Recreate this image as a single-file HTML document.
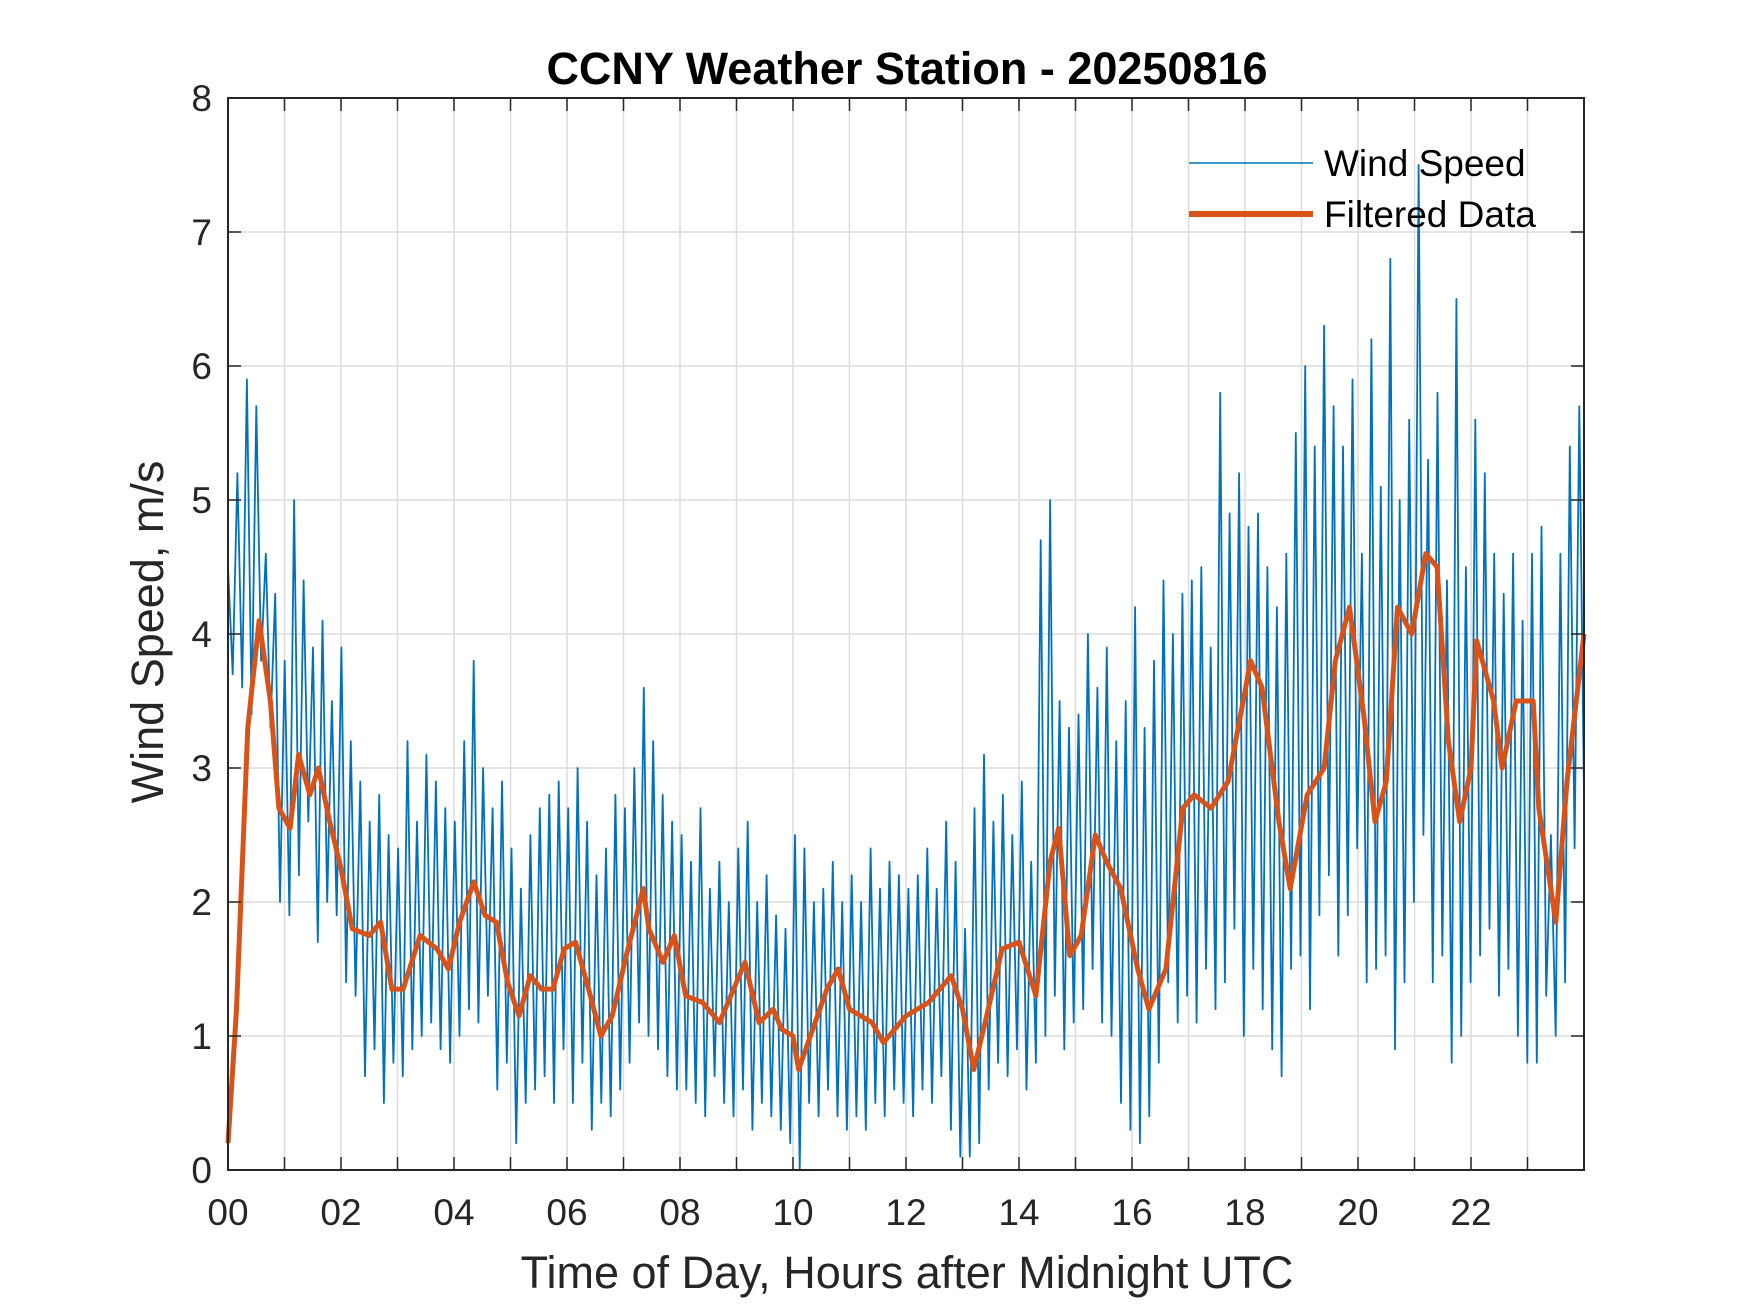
<!DOCTYPE html>
<html><head><meta charset="utf-8"><style>
html,body{margin:0;padding:0;background:#fff}
svg{display:block;font-family:"Liberation Sans",Arial,sans-serif}
</style></head><body>
<svg id="chart" width="1750" height="1313" viewBox="0 0 1750 1313" xmlns="http://www.w3.org/2000/svg">
<rect width="1750" height="1313" fill="#fff"/>
<text x="907" y="84" text-anchor="middle" font-size="45" font-weight="bold" fill="#000">CCNY Weather Station - 20250816</text>
<g id="grid"></g>
<g id="series"></g>
<g id="axes"></g>
<text x="907" y="1288" text-anchor="middle" font-size="45" fill="#262626">Time of Day, Hours after Midnight UTC</text>
<text transform="translate(163,632) rotate(-90)" text-anchor="middle" font-size="45" fill="#262626">Wind Speed, m/s</text>
<g>
<line x1="1189" y1="163" x2="1313" y2="163" stroke="#0072BD" stroke-width="1.5"/>
<text x="1324" y="176" font-size="37" fill="#000">Wind Speed</text>
<line x1="1189" y1="214" x2="1313" y2="214" stroke="#D95319" stroke-width="6"/>
<text x="1324" y="227" font-size="37" fill="#000">Filtered Data</text>
</g>
</svg>
<script>
const yTicks=[0,1,2,3,4,5,6,7,8];
const xTickLabels=["00","02","04","06","08","10","12","14","16","18","20","22"];
const windSpeed=[
4.5,3.7,5.2,3.6,5.9,3.4,5.7,3.8,4.6,3.3,4.3,2.0,
3.8,1.9,5.0,2.2,4.4,2.6,3.9,1.7,4.1,2.0,3.5,1.9,
3.9,1.4,3.2,1.3,2.9,0.7,2.6,0.9,2.8,0.5,2.5,0.8,
2.4,0.7,3.2,0.9,2.6,1.0,3.1,1.1,2.9,0.9,2.7,0.8,
2.6,1.0,3.2,1.2,3.8,1.1,3.0,1.3,2.7,0.6,2.9,0.8,
2.4,0.2,2.1,0.5,2.5,0.6,2.7,0.7,2.8,0.5,2.9,0.9,
2.7,0.5,3.0,0.8,2.6,0.3,2.2,0.5,2.4,0.4,2.8,0.6,
2.7,0.8,3.0,1.1,3.6,1.0,3.2,0.9,2.8,0.7,2.6,0.6,
2.5,0.6,2.3,0.5,2.7,0.4,2.1,0.7,2.3,0.5,2.0,0.4,
2.4,0.6,2.6,0.3,2.0,0.5,2.2,0.4,1.9,0.3,1.8,0.2,
2.5,0.0,2.4,0.5,2.0,0.4,2.1,0.6,2.3,0.4,2.0,0.3,
2.2,0.4,2.0,0.3,2.4,0.5,2.1,0.4,2.3,0.6,2.2,0.5,
2.1,0.4,2.2,0.6,2.4,0.5,2.1,0.7,2.6,0.3,2.3,0.1,
1.8,0.1,2.7,0.2,3.1,0.6,2.6,0.8,2.8,0.7,2.5,0.9,
2.9,0.6,2.3,0.8,4.7,1.0,5.0,1.3,3.5,0.9,3.3,1.1,
3.4,1.2,4.0,1.5,3.6,1.1,3.9,1.0,3.2,0.5,3.5,0.3,
4.2,0.2,3.3,0.4,3.8,0.8,4.4,1.4,4.0,1.1,4.3,1.3,
4.4,1.1,4.5,1.5,3.9,1.2,5.8,1.4,4.9,1.8,5.2,1.0,
4.8,1.5,4.9,1.2,4.5,0.9,4.2,0.7,4.6,1.5,5.5,1.6,
6.0,1.2,5.4,1.9,6.3,2.2,5.7,1.6,5.4,1.9,5.9,2.4,
4.6,1.4,6.2,1.5,5.1,1.6,6.8,0.9,5.0,1.4,5.6,2.0,
7.5,2.5,5.3,1.4,5.8,1.6,4.4,0.8,6.5,1.0,4.5,1.4,
5.6,1.6,5.2,1.8,4.6,1.3,4.3,1.5,4.6,1.0,4.1,0.8,
4.6,0.8,4.8,1.3,2.5,1.0,4.6,1.4,5.4,2.4,5.7,2.8];
const filtHours=[0,0.15,0.35,0.55,0.75,0.9,1.1,1.25,1.45,1.6,1.8,2.0,2.2,2.5,2.7,2.9,3.1,3.4,3.7,3.9,4.1,4.35,4.55,4.75,4.95,5.15,5.35,5.55,5.75,5.95,6.15,6.35,6.6,6.8,7.05,7.35,7.45,7.7,7.9,8.1,8.4,8.7,8.9,9.15,9.4,9.65,9.8,10.0,10.1,10.6,10.8,11.0,11.4,11.6,12.0,12.4,12.8,13.0,13.2,13.4,13.7,14.0,14.3,14.55,14.7,14.9,15.1,15.35,15.55,15.8,16.1,16.3,16.6,16.9,17.1,17.4,17.7,18.1,18.3,18.6,18.8,19.1,19.4,19.6,19.85,20.1,20.3,20.5,20.7,20.95,21.2,21.4,21.6,21.8,22.0,22.1,22.4,22.55,22.8,23.1,23.2,23.5,23.7,24.0];
const filtValues=[0.2,1.2,3.3,4.1,3.5,2.7,2.55,3.1,2.8,3.0,2.6,2.25,1.8,1.75,1.85,1.35,1.35,1.75,1.65,1.5,1.85,2.15,1.9,1.85,1.4,1.15,1.45,1.35,1.35,1.65,1.7,1.4,1.0,1.15,1.6,2.1,1.8,1.55,1.75,1.3,1.25,1.1,1.3,1.55,1.1,1.2,1.05,1.0,0.75,1.35,1.5,1.2,1.1,0.95,1.15,1.25,1.45,1.2,0.75,1.1,1.65,1.7,1.3,2.3,2.55,1.6,1.75,2.5,2.3,2.1,1.5,1.2,1.5,2.7,2.8,2.7,2.9,3.8,3.6,2.6,2.1,2.8,3.0,3.8,4.2,3.4,2.6,2.9,4.2,4.0,4.6,4.5,3.2,2.6,3.0,3.95,3.5,3.0,3.5,3.5,2.7,1.85,2.9,4.0];

const L=228,R=1584,T=98,B=1170;
const xs=h=>L+(R-L)*h/24;
const ys=v=>B-(B-T)*v/8;
const NS="http://www.w3.org/2000/svg";
function mk(tag,attrs,parent){const e=document.createElementNS(NS,tag);for(const k in attrs)e.setAttribute(k,attrs[k]);parent.appendChild(e);return e;}
const grid=document.getElementById('grid'),axes=document.getElementById('axes'),series=document.getElementById('series');
for(let h=1;h<24;h++){
  const g=mk('line',{x1:xs(h),x2:xs(h),y1:T,y2:B,stroke:'#dcdcdc','stroke-width':1.5},grid);
  
  
  const t1=mk('line',{x1:xs(h),x2:xs(h),y1:B,y2:B-13,stroke:'#262626','stroke-width':1.5},axes);
  
  
  const t2=mk('line',{x1:xs(h),x2:xs(h),y1:T,y2:T+13,stroke:'#262626','stroke-width':1.5},axes);
  
  
}
yTicks.forEach(v=>{
  if(v>0&&v<8){
    const g=mk('line',{x1:L,x2:R,y1:ys(v),y2:ys(v),stroke:'#dcdcdc','stroke-width':1.5},grid);
    
    
    const t1=mk('line',{x1:L,x2:L+13,y1:ys(v),y2:ys(v),stroke:'#262626','stroke-width':1.5},axes);
    
    
    const t2=mk('line',{x1:R,x2:R-13,y1:ys(v),y2:ys(v),stroke:'#262626','stroke-width':1.5},axes);
    
    
  }
  const lb=mk('text',{x:L-16,y:ys(v)+13,'text-anchor':'end','font-size':37,fill:'#262626'},axes);
  lb.textContent=String(v);
  
  
});
xTickLabels.forEach((s,i)=>{
  const lb=mk('text',{x:xs(i*2),y:1225,'text-anchor':'middle','font-size':37,fill:'#262626'},axes);
  lb.textContent=s;
  
  
});
const box=mk('rect',{x:L,y:T,width:R-L,height:B-T,fill:'none',stroke:'#262626','stroke-width':2},axes);


const n=windSpeed.length;
const bp=windSpeed.map((v,i)=>xs(24*i/(n-1)).toFixed(1)+','+ys(v).toFixed(1)).join(' ');
const blue=mk('polyline',{points:bp,fill:'none',stroke:'#0072BD','stroke-width':1.8,'stroke-linejoin':'round'},series);


const op=filtHours.map((h,i)=>xs(h).toFixed(1)+','+ys(filtValues[i]).toFixed(1)).join(' ');
const orange=mk('polyline',{points:op,fill:'none',stroke:'#D95319','stroke-width':5,'stroke-linejoin':'round'},series);


</script>
</body></html>
